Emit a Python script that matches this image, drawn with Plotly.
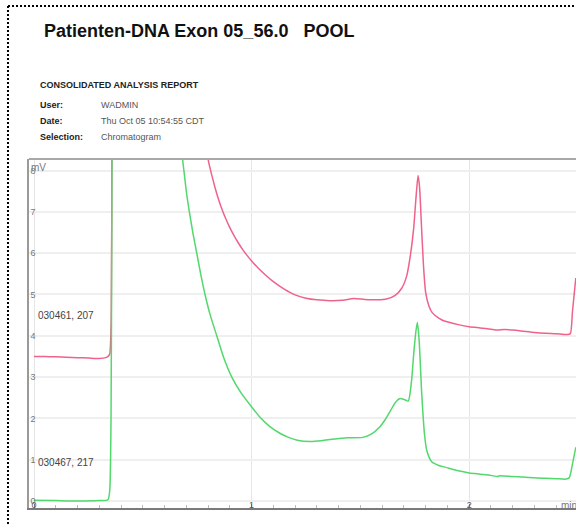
import plotly.graph_objects as go

# ---- data (time in min, signal in mV) ----
pink_name = "030461, 207"
pink_t = [0.00, 0.05, 0.10, 0.15, 0.20, 0.25, 0.30, 0.33, 0.34, 0.348, 0.355, 0.358, 0.362, 0.40, 0.70,
          0.78, 0.80, 0.82, 0.84, 0.86, 0.88, 0.90, 0.92, 0.94, 0.96, 0.98, 1.00, 1.03, 1.06,
          1.10, 1.15, 1.20, 1.25, 1.30, 1.36, 1.42, 1.47, 1.52, 1.58, 1.62, 1.66, 1.69,
          1.713, 1.73, 1.745, 1.755, 1.765, 1.772, 1.78, 1.79, 1.80, 1.815, 1.83, 1.86,
          1.89, 1.95, 2.00, 2.05, 2.10, 2.13, 2.16, 2.20, 2.25, 2.30, 2.35, 2.40, 2.45,
          2.465, 2.475, 2.49]
pink_v = [3.50, 3.50, 3.49, 3.48, 3.47, 3.46, 3.45, 3.47, 3.50, 3.56, 4.5, 8.5, 20, 30, 30,
          10.0, 8.28, 7.83, 7.44, 7.12, 6.85, 6.62, 6.42, 6.24, 6.08, 5.94, 5.81, 5.64, 5.49,
          5.31, 5.13, 4.99, 4.91, 4.87, 4.85, 4.86, 4.90, 4.88, 4.87, 4.89, 4.98, 5.15,
          5.45, 5.95, 6.60, 7.30, 7.88, 7.60, 6.75, 5.70, 5.05, 4.72, 4.56, 4.43,
          4.35, 4.27, 4.22, 4.19, 4.16, 4.14, 4.15, 4.14, 4.11, 4.08, 4.06, 4.05, 4.03,
          4.05, 4.60, 5.40]

green_name = "030467, 217"
green_t = [0.00, 0.10, 0.20, 0.30, 0.34, 0.348, 0.354, 0.357, 0.36, 0.365, 0.40, 0.65, 0.675,
           0.683, 0.689, 0.700, 0.714, 0.730, 0.748, 0.766, 0.786, 0.81, 0.84, 0.87, 0.909,
           0.95, 1.00, 1.04, 1.08, 1.13, 1.17, 1.21, 1.27, 1.32, 1.36, 1.44, 1.51, 1.55,
           1.59, 1.613, 1.64, 1.66, 1.682, 1.70, 1.72, 1.735, 1.745, 1.755, 1.762, 1.77,
           1.782, 1.795, 1.805, 1.828, 1.86, 1.889, 1.95, 2.00, 2.05, 2.10, 2.13, 2.14,
           2.20, 2.25, 2.30, 2.35, 2.40, 2.445, 2.46, 2.475, 2.49]
green_v = [0.02, 0.01, 0.00, 0.01, 0.03, 0.25, 2.0, 6.0, 12, 20, 30, 30, 9.5,
           8.28, 8.00, 7.50, 7.00, 6.50, 6.00, 5.50, 5.00, 4.50, 4.00, 3.50, 3.00,
           2.63, 2.28, 2.02, 1.82, 1.64, 1.54, 1.47, 1.44, 1.46, 1.49, 1.53, 1.54, 1.62,
           1.80, 1.96, 2.20, 2.38, 2.48, 2.46, 2.42, 2.90, 3.55, 4.10, 4.32, 3.90,
           2.60, 1.60, 1.23, 0.95, 0.86, 0.82, 0.73, 0.68, 0.65, 0.62, 0.59, 0.61,
           0.59, 0.58, 0.56, 0.55, 0.54, 0.53, 0.56, 0.90, 1.30]

y_ticks = [0, 1, 2, 3, 4, 5, 6, 7, 8]
x_ticks = [0, 1, 2]

title_text = "Patienten-DNA Exon 05_56.0\u00a0\u00a0\u00a0POOL"
report_heading = "CONSOLIDATED ANALYSIS REPORT"
info_labels = ["User:", "Date:", "Selection:"]
info_values = ["WADMIN", "Thu Oct 05 10:54:55 CDT", "Chromatogram"]

# ---- figure ----
W, H = 576, 526
FONT = "Liberation Sans, Arial, sans-serif"
PINK = "#EF628A"
GREEN = "#52D86C"


def px(x):
    return x / W


def py(y):
    return 1 - y / H


fig = go.Figure()
fig.add_trace(go.Scatter(x=pink_t, y=pink_v, mode="lines", name=pink_name,
                         line=dict(color=PINK, width=1.5, shape="spline", smoothing=0.6),
                         hoverinfo="skip"))
fig.add_trace(go.Scatter(x=green_t, y=green_v, mode="lines", name=green_name,
                         line=dict(color=GREEN, width=1.5, shape="spline", smoothing=0.6),
                         hoverinfo="skip"))

fig.update_layout(
    width=W, height=H, margin=dict(l=0, r=0, t=0, b=0),
    paper_bgcolor="white", plot_bgcolor="white", showlegend=False,
    font=dict(family=FONT, color="#555"),
    xaxis=dict(domain=[px(29), 1.0], range=[-0.023, 2.491],
               tickvals=x_ticks, ticktext=[str(v) for v in x_ticks],
               ticklabelposition="outside", ticklabelstandoff=-13,
               ticks="inside", ticklen=4, tickcolor="#777",
               tickfont=dict(size=9, color="#555", family=FONT),
               showgrid=True, gridcolor="#E6E6E6", gridwidth=1, zeroline=False,
               showline=True, linecolor="#7A7A7A", linewidth=1.5,
               minor=dict(ticks="inside", dtick=0.1, ticklen=3, tickcolor="#BBBBBB", showgrid=False)),
    yaxis=dict(domain=[py(508), py(159)], range=[-0.17, 8.28],
               tickvals=y_ticks, ticktext=[str(v) for v in y_ticks],
               ticklabelposition="outside", ticklabelstandoff=-10, ticks="",
               tickfont=dict(size=9, color="#777", family=FONT),
               showgrid=True, gridcolor="#EFEFEF", gridwidth=1.5, zeroline=False,
               showline=True, linecolor="#9A9A9A", linewidth=1.5),
)

shapes = []
# dotted page border (top and left)
shapes.append(dict(type="line", xref="paper", yref="paper", x0=px(8), x1=1.0, y0=py(6), y1=py(6),
                   line=dict(color="black", width=2, dash="2px,2px")))
shapes.append(dict(type="line", xref="paper", yref="paper", x0=px(8), x1=px(8), y0=py(6), y1=0,
                   line=dict(color="black", width=2, dash="2px,2px")))
# plot frame top line
shapes.append(dict(type="line", xref="paper", yref="paper", x0=px(29), x1=1.0, y0=py(159), y1=py(159),
                   line=dict(color="#A8A8A8", width=2)))
fig.update_layout(shapes=shapes)

ann = []
ann.append(dict(xref="paper", yref="paper", x=px(42), y=py(31), xanchor="left", yanchor="middle",
                text=f"<b>{title_text}</b>", showarrow=False,
                font=dict(size=18, color="#111", family=FONT)))
ann.append(dict(xref="paper", yref="paper", x=px(38), y=py(85), xanchor="left", yanchor="middle",
                text=f"<b>{report_heading}</b>", showarrow=False,
                font=dict(size=9, color="#222", family=FONT)))
for i, (lab, val) in enumerate(zip(info_labels, info_values)):
    yy = [105, 121, 137][i]
    ann.append(dict(xref="paper", yref="paper", x=px(38), y=py(yy), xanchor="left", yanchor="middle",
                    text=f"<b>{lab}</b>", showarrow=False, font=dict(size=9, color="#222", family=FONT)))
    ann.append(dict(xref="paper", yref="paper", x=px(99), y=py(yy), xanchor="left", yanchor="middle",
                    text=val, showarrow=False, font=dict(size=9, color="#555", family=FONT)))
# trace labels
ann.append(dict(xref="paper", yref="y", x=px(36), y=4.48, xanchor="left", yanchor="middle",
                text=pink_name, showarrow=False, font=dict(size=10, color="#444", family=FONT)))
ann.append(dict(xref="paper", yref="y", x=px(36), y=0.94, xanchor="left", yanchor="middle",
                text=green_name, showarrow=False, font=dict(size=10, color="#444", family=FONT)))
# units
ann.append(dict(xref="paper", yref="paper", x=px(29), y=py(167), xanchor="left", yanchor="middle",
                text="mV", showarrow=False, font=dict(size=10, color="#777", family=FONT)))
ann.append(dict(xref="paper", yref="paper", x=px(559), y=py(505), xanchor="left", yanchor="middle",
                text="min", showarrow=False, font=dict(size=10, color="#777", family=FONT)))
fig.update_layout(annotations=ann)

fig.write_html("out.html")
